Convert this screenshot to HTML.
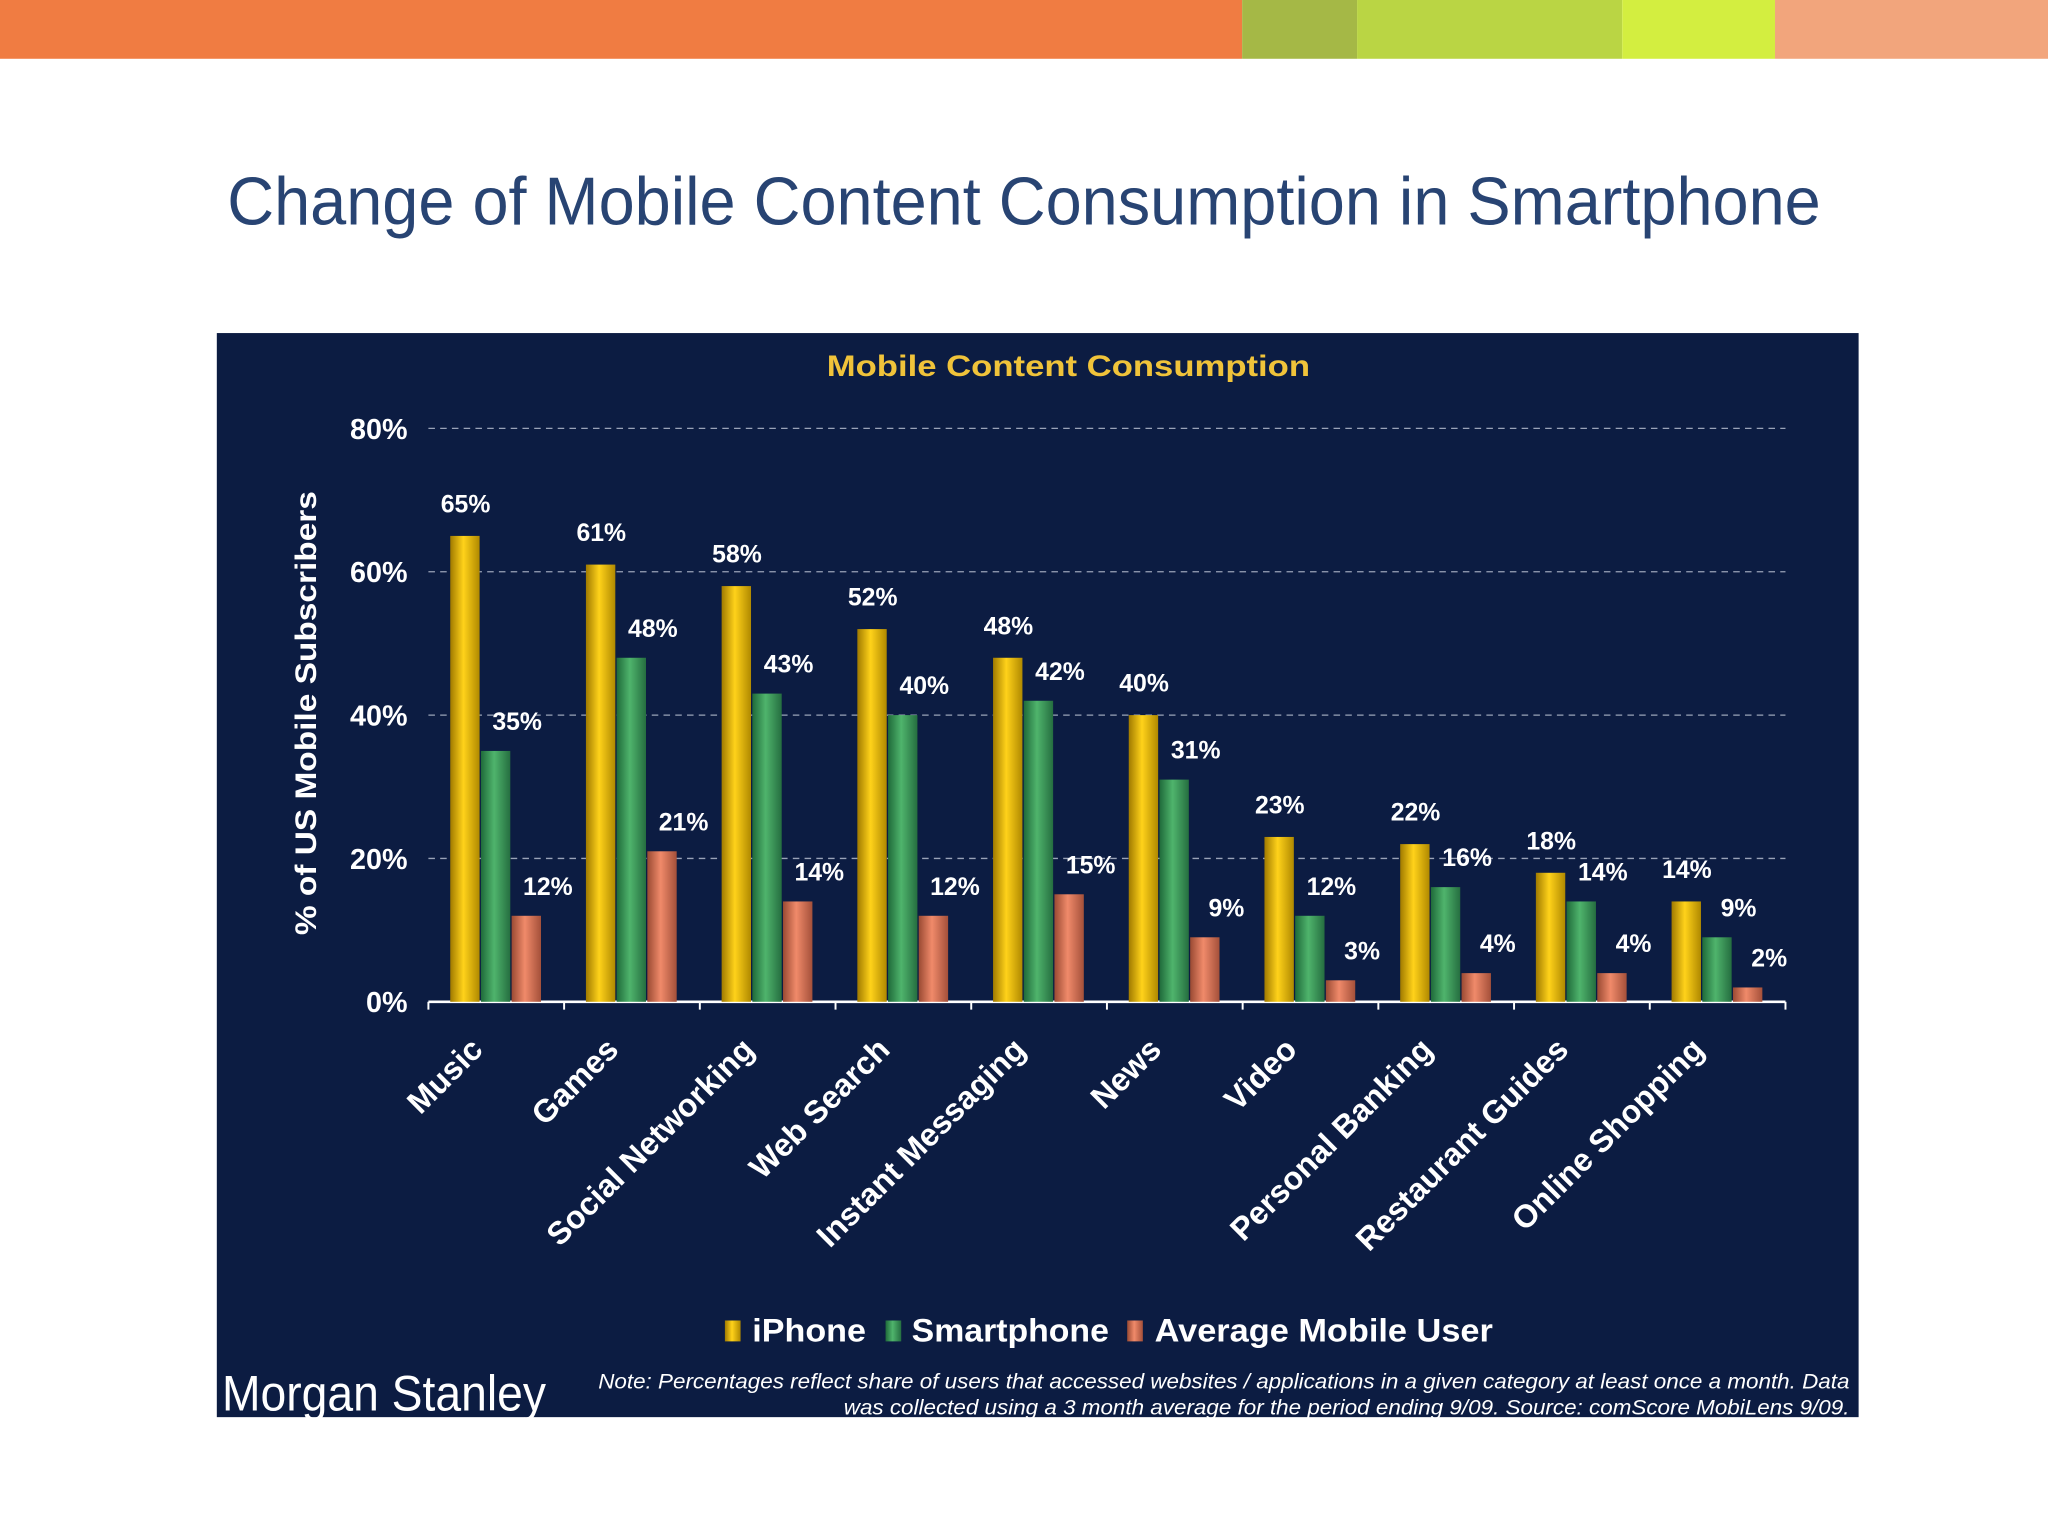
<!DOCTYPE html>
<html><head><meta charset="utf-8"><style>
html,body{margin:0;padding:0;background:#fff;}
svg{display:block;font-family:"Liberation Sans",Arial,sans-serif;}
</style></head><body>
<svg id="s" width="2048" height="1536" viewBox="0 0 1568 1176" xmlns="http://www.w3.org/2000/svg">
<defs>
<linearGradient id="gY" x1="0" x2="1"><stop offset="0" stop-color="#a07a00"/><stop offset="0.45" stop-color="#ffd21a"/><stop offset="1" stop-color="#b08900"/></linearGradient>
<linearGradient id="gG" x1="0" x2="1"><stop offset="0" stop-color="#1f6a3a"/><stop offset="0.45" stop-color="#4fb46c"/><stop offset="1" stop-color="#256e40"/></linearGradient>
<linearGradient id="gR" x1="0" x2="1"><stop offset="0" stop-color="#9a4a33"/><stop offset="0.45" stop-color="#f08a6a"/><stop offset="1" stop-color="#a4503a"/></linearGradient>
</defs>
<g>
<rect x="0" y="0" width="951" height="45" fill="#f07c42"/>
<rect x="951" y="0" width="88" height="45" fill="#a5b846"/>
<rect x="1039" y="0" width="203" height="45" fill="#bad544"/>
<rect x="1242" y="0" width="117" height="45" fill="#d3ee40"/>
<rect x="1359" y="0" width="209" height="45" fill="#f2a57c"/>
</g>
<text x="174" y="172" font-size="52" fill="#284473" textLength="1220" lengthAdjust="spacingAndGlyphs">Change of Mobile Content Consumption in Smartphone</text>
<rect x="166" y="255" width="1257" height="830" fill="#0c1c42"/>
<text x="818" y="288" text-anchor="middle" font-size="23" font-weight="bold" fill="#f0c33a" textLength="370" lengthAdjust="spacingAndGlyphs">Mobile Content Consumption</text>
<text transform="translate(242,546) rotate(-90)" text-anchor="middle" font-size="23" font-weight="bold" fill="#fff" textLength="340" lengthAdjust="spacingAndGlyphs">% of US Mobile Subscribers</text>
<g id="grid"></g><g id="bars"></g><g id="xl"></g>
<g font-size="25" font-weight="bold" fill="#fff">
<rect x="555" y="1011" width="12" height="16" fill="url(#gY)"/>
<text x="576" y="1027" textLength="87" lengthAdjust="spacingAndGlyphs">iPhone</text>
<rect x="678" y="1011" width="12" height="16" fill="url(#gG)"/>
<text x="698" y="1027" textLength="151" lengthAdjust="spacingAndGlyphs">Smartphone</text>
<rect x="863" y="1011" width="12" height="16" fill="url(#gR)"/>
<text x="884" y="1027" textLength="259" lengthAdjust="spacingAndGlyphs">Average Mobile User</text>
</g>
<text x="170" y="1080" font-size="38" fill="#fff" textLength="248" lengthAdjust="spacingAndGlyphs">Morgan Stanley</text>
<g font-size="16" font-style="italic" fill="#fff" text-anchor="end">
<text x="1416" y="1063" textLength="958" lengthAdjust="spacingAndGlyphs">Note: Percentages reflect share of users that accessed websites / applications in a given category at least once a month. Data</text>
<text x="1416" y="1083" textLength="770" lengthAdjust="spacingAndGlyphs">was collected using a 3 month average for the period ending 9/09. Source: comScore MobiLens 9/09.</text>
</g>
</svg>
<script>
const categories=["Music","Games","Social Networking","Web Search","Instant Messaging","News","Video","Personal Banking","Restaurant Guides","Online Shopping"];
const iphone=[65,61,58,52,48,40,23,22,18,14];
const smartphone=[35,48,43,40,42,31,12,16,14,9];
const average=[12,21,14,12,15,9,3,4,4,2];
const yTicks=[0,20,40,60,80];
const NS="http://www.w3.org/2000/svg";
const x0=328,x1=1367,y0=767,yTop=328;
const yS=v=>y0-(v/80)*(y0-yTop);
const bw=(x1-x0)/categories.length;
const cx=i=>x0+bw*(i+0.5);
function mk(t,a,p){const e=document.createElementNS(NS,t);for(const k in a)e.setAttribute(k,a[k]);p.appendChild(e);return e;}
const grid=document.getElementById('grid'),bars=document.getElementById('bars'),xl=document.getElementById('xl');
yTicks.forEach(v=>{
  if(v>0){const l=mk('line',{x1:x0,x2:x1,y1:yS(v),y2:yS(v),stroke:'#9aa3b8','stroke-width':1,'stroke-dasharray':'5,4'},grid);
  
  }
  const t=mk('text',{x:312,y:yS(v)+8,'text-anchor':'end','font-size':22,'font-weight':'bold',fill:'#fff'},grid);
  t.textContent=v+'%';
  
  
});
const ax=mk('line',{x1:x0,x2:x1,y1:y0,y2:y0,stroke:'#fff','stroke-width':2},grid);


for(let i=0;i<=categories.length;i++){const tk=mk('line',{x1:x0+bw*i,x2:x0+bw*i,y1:y0,y2:y0+6,stroke:'#fff','stroke-width':1.5},grid);

}
const series=[[iphone,'url(#gY)','iphone'],[smartphone,'url(#gG)','smartphone'],[average,'url(#gR)','average']];
const w=23.5;
categories.forEach((c,i)=>{
  series.forEach((s,j)=>{
    const v=s[0][i],x=cx(i)+(j-1.5)*w;
    const r=mk('rect',{x:x,y:yS(v),width:w-1,height:y0-yS(v),fill:s[1]},bars);
    
    
    const t=mk('text',{x:x+w/2+(j==0?0:16),y:yS(v)-(j==0?18:16),'text-anchor':'middle','font-size':19,'font-weight':'bold',fill:'#fff'},bars);
    t.textContent=v+'%';
    
    
  });
  const t=mk('text',{transform:`translate(${cx(i)-9},${y0+38}) rotate(-45)`,'text-anchor':'end','font-size':24.5,'font-weight':'bold',fill:'#fff'},xl);
  t.textContent=c;
  
  
});
</script>
</body></html>
